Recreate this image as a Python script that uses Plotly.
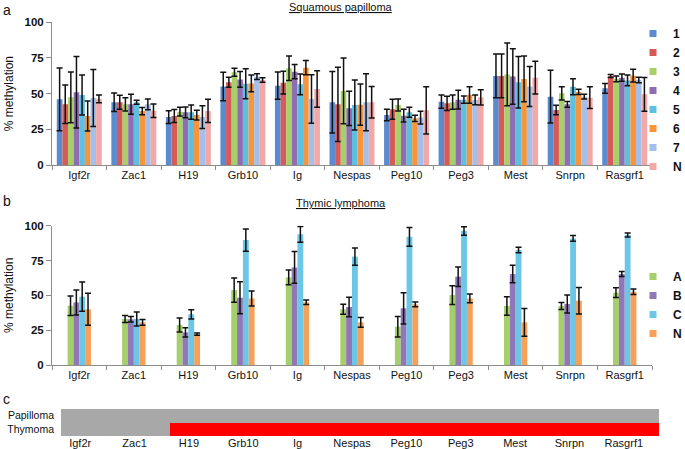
import plotly.graph_objects as go

genes = ["Igf2r", "Zac1", "H19", "Grb10", "Ig", "Nespas", "Peg10", "Peg3", "Mest", "Snrpn", "Rasgrf1"]

# Panel a: squamous papilloma (% methylation, mean and error)
pap_names = ["1", "2", "3", "4", "5", "6", "7", "N"]
pap_1 = [46, 44, 33.6, 55, 55.6, 44, 35, 44.4, 62.4, 47.9, 53.7]
pap_2 = [42.5, 44, 34.3, 58, 57.7, 42.5, 39, 43.2, 62.4, 38.6, 62.4]
pap_3 = [47.4, 42.5, 37.4, 65, 67.8, 51.9, 42, 44, 63.5, 50.2, 60.3]
pap_4 = [51, 42.5, 36.9, 60, 65.4, 39.7, 34.6, 45.8, 62, 42.5, 61.2]
pap_5 = [49, 44, 37, 57, 56.5, 42, 37, 45.8, 58, 54.9, 59.3]
pap_6 = [34.3, 37.8, 35, 57.2, 68.2, 42.3, 32.7, 49, 60.3, 51.2, 62.6]
pap_7 = [47, 42.5, 33.6, 62, 46.3, 44, 33.2, 45.6, 55, 47.9, 59.6]
pap_N = [46.3, 38, 37.9, 59.6, 53.3, 44, 38.3, 47.4, 61.2, 47.2, 49.5]
pap_1_err = [22, 6.5, 4.5, 10, 9.5, 21.5, 4, 4.6, 15.3, 18.5, 3.5]
pap_2_err = [13.5, 4.9, 4.6, 3.5, 8, 26, 7, 5, 15.3, 3.3, 1]
pap_3_err = [17.8, 4.6, 3, 2.8, 8.5, 23, 4.2, 5, 22, 4.7, 2]
pap_4_err = [25, 7, 3.8, 5.6, 5, 12, 4.4, 6.5, 19.5, 2, 2.5]
pap_5_err = [14, 1.4, 5, 10.5, 7.3, 17.5, 3.5, 2.6, 18, 5.6, 3.7]
pap_6_err = [10.5, 2.5, 3.4, 5.8, 5, 14.5, 2.2, 5.8, 16, 1.8, 4.5]
pap_7_err = [20, 3.7, 8, 2, 17, 20, 4.5, 3.4, 14, 1.6, 1.9]
pap_N_err = [2.7, 4.8, 8.2, 1.6, 12.8, 11, 16.5, 5.4, 11.5, 7.6, 11.9]

# Panel b: thymic lymphoma
thy_names = ["A", "B", "C", "N"]
thy_A = [42.5, 33, 28.7, 53.8, 62.9, 40, 27.5, 50.2, 42.4, 42.4, 51.9]
thy_B = [44.9, 32.8, 23.4, 48.3, 70, 41.6, 40.7, 63.4, 65.3, 43.8, 65.3]
thy_C = [49, 33, 36.4, 89.7, 93.8, 77.8, 92, 96.2, 82.6, 90.9, 93.3]
thy_N = [40, 30.6, 22.2, 47.8, 45, 30.6, 43.5, 47.8, 30.6, 46.2, 52.6]
thy_A_err = [7, 2.5, 5, 8.7, 5.3, 3.6, 7.4, 6.7, 6.6, 2.5, 3.5]
thy_B_err = [9, 2, 3.3, 11.5, 11.4, 7, 11.2, 7, 6.3, 6.5, 1.8]
thy_C_err = [10.5, 5, 3.3, 8, 5.6, 6.2, 6.7, 3, 2, 2, 1.5]
thy_N_err = [11.5, 2, 0.8, 5.4, 1.6, 3.5, 1.7, 3.2, 10, 9.5, 2]

# Panel c: status rows (0 = unchanged / grey, 1 = changed / red)
rows = ["Thymoma", "Papilloma"]
status_thymoma = [0, 0, 1, 1, 1, 1, 1, 1, 1, 1, 1]
status_papilloma = [0, 0, 0, 0, 0, 0, 0, 0, 0, 0, 0]

yticks = [0, 25, 50, 75, 100]

pap_vals = [pap_1, pap_2, pap_3, pap_4, pap_5, pap_6, pap_7, pap_N]
pap_errs = [pap_1_err, pap_2_err, pap_3_err, pap_4_err, pap_5_err, pap_6_err, pap_7_err, pap_N_err]
pap_colors = ["#5A8AD0", "#D65A57", "#A8D06A", "#8E6DB3", "#5CC0DE", "#F7943C", "#A3BFEA", "#F2A8A6"]

thy_vals = [thy_A, thy_B, thy_C, thy_N]
thy_errs = [thy_A_err, thy_B_err, thy_C_err, thy_N_err]
thy_colors = ["#A5CF6A", "#9077B8", "#6CC6E6", "#F7A05A"]

W, H = 685, 449
FONT = "Liberation Sans, Arial, sans-serif"

def px_x(p):
    return p / W

def px_y(p):
    return (H - p) / H

fig = go.Figure()

wa = 0.103
for i, (nm, v, e, c) in enumerate(zip(pap_names, pap_vals, pap_errs, pap_colors)):
    fig.add_trace(go.Bar(
        x=genes, y=v, name=nm, width=wa, offset=-4 * wa + i * wa,
        marker=dict(color=c, line=dict(width=0)),
        error_y=dict(type="data", array=e, color="#111111", thickness=1.5, width=3),
        xaxis="x", yaxis="y", showlegend=False,
    ))
    fig.add_trace(go.Scatter(
        x=[None], y=[None], mode="markers", name=nm,
        marker=dict(symbol="square", size=7, color=c),
        xaxis="x", yaxis="y", legend="legend",
    ))

wb = 0.107
for i, (nm, v, e, c) in enumerate(zip(thy_names, thy_vals, thy_errs, thy_colors)):
    fig.add_trace(go.Bar(
        x=genes, y=v, name=nm, width=wb, offset=-2 * wb + i * wb,
        marker=dict(color=c, line=dict(width=0)),
        error_y=dict(type="data", array=e, color="#111111", thickness=1.5, width=3),
        xaxis="x2", yaxis="y2", showlegend=False,
    ))
    fig.add_trace(go.Scatter(
        x=[None], y=[None], mode="markers", name=nm,
        marker=dict(symbol="square", size=7, color=c),
        xaxis="x2", yaxis="y2", legend="legend2",
    ))

fig.add_trace(go.Heatmap(
    x=genes, y=rows, z=[status_thymoma, status_papilloma],
    colorscale=[[0, "#A8A8A8"], [1, "#FF0000"]], zmin=0, zmax=1,
    showscale=False, xgap=0, ygap=0, hoverinfo="skip",
    xaxis="x3", yaxis="y3",
))

axis_common = dict(showgrid=False, zeroline=False, linecolor="#8C8C8C", linewidth=1,
                   tickcolor="#8C8C8C", showline=True, automargin=False)

fig.update_layout(
    width=W, height=H, margin=dict(l=0, r=0, t=0, b=0, autoexpand=False),
    paper_bgcolor="white", plot_bgcolor="white",
    font=dict(family=FONT, color="#111111"),
    barmode="overlay",
    xaxis=dict(domain=[px_x(52), px_x(652)], anchor="y", type="category",
               ticks="outside", tickson="boundaries", ticklen=4,
               tickfont=dict(size=11), **axis_common),
    yaxis=dict(domain=[px_y(165), px_y(22.3)], anchor="x", range=[0, 100],
               tickvals=yticks, ticks="outside", ticklen=5,
               tickfont=dict(size=11.5, weight="bold"),
               title=dict(text="% methylation", font=dict(size=12), standoff=8),
               **axis_common),
    xaxis2=dict(domain=[px_x(52), px_x(652)], anchor="y2", type="category",
                ticks="outside", tickson="boundaries", ticklen=4,
                tickfont=dict(size=11), **axis_common),
    yaxis2=dict(domain=[px_y(365), px_y(225.7)], anchor="x2", range=[0, 100],
                tickvals=yticks, ticks="outside", ticklen=5,
                tickfont=dict(size=11.5, weight="bold"),
                title=dict(text="% methylation", font=dict(size=12), standoff=8),
                **axis_common),
    xaxis3=dict(domain=[px_x(61), px_x(659)], anchor="y3", type="category",
                showline=False, showgrid=False, zeroline=False, ticks="",
                ticklabelshift=-8, ticklabelstandoff=-1, automargin=False,
                tickfont=dict(size=11)),
    yaxis3=dict(domain=[px_y(436), px_y(409)], anchor="x3", type="category",
                showline=False, showgrid=False, zeroline=False, ticks="",
                ticklabelstandoff=6, automargin=False, tickfont=dict(size=10.5)),
    legend=dict(x=px_x(633), y=px_y(19), xanchor="left", yanchor="top",
                font=dict(size=12, weight="bold"), bgcolor="rgba(0,0,0,0)",
                tracegroupgap=0, itemwidth=30),
    legend2=dict(x=px_x(633), y=px_y(262), xanchor="left", yanchor="top",
                 font=dict(size=12, weight="bold"), bgcolor="rgba(0,0,0,0)",
                 tracegroupgap=0, itemwidth=30),
    annotations=[
        dict(text="a", x=px_x(1), y=px_y(0), xref="paper", yref="paper",
             xanchor="left", yanchor="top", showarrow=False, font=dict(size=14)),
        dict(text="<u>Squamous papilloma</u>", x=px_x(341), y=px_y(7), xref="paper", yref="paper",
             xanchor="center", yanchor="middle", showarrow=False, font=dict(size=11)),
        dict(text="b", x=px_x(1), y=px_y(191), xref="paper", yref="paper",
             xanchor="left", yanchor="top", showarrow=False, font=dict(size=14)),
        dict(text="<u>Thymic lymphoma</u>", x=px_x(341), y=px_y(203), xref="paper", yref="paper",
             xanchor="center", yanchor="middle", showarrow=False, font=dict(size=11)),
        dict(text="c", x=px_x(1), y=px_y(389), xref="paper", yref="paper",
             xanchor="left", yanchor="top", showarrow=False, font=dict(size=14)),
    ],
)

fig.write_html("out.html", config={"displayModeBar": False},
               post_script="document.body.style.margin='0px';")
